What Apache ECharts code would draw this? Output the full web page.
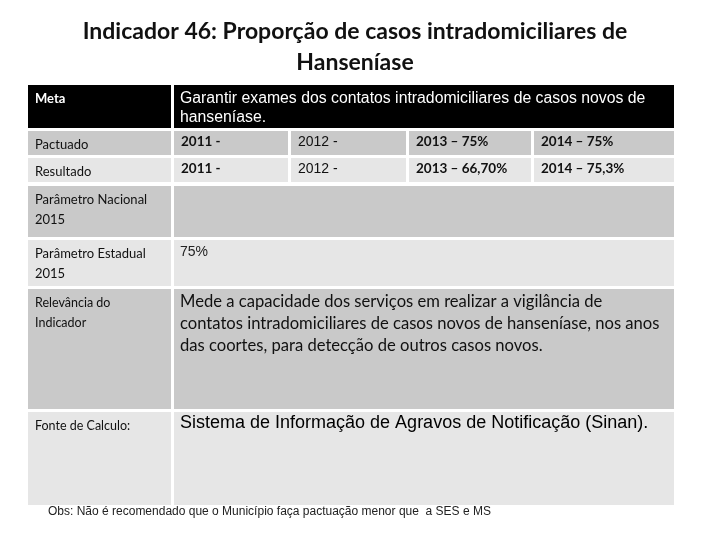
<!DOCTYPE html>
<html>
<head>
<meta charset="utf-8">
<script src="https://cdn.jsdelivr.net/npm/echarts@6/dist/echarts.min.js"></script>
<style>
  html, body { margin: 0; padding: 0; background: #fff; }
  #chart { width: 720px; height: 540px; }
</style>
</head>
<body>
<div id="chart"></div>
<script>
// texto da tabela
var titleLines = ['Indicador 46: Proporção de casos intradomiciliares de', 'Hanseníase']
var rowLabels = ['Meta', 'Pactuado', 'Resultado', 'Parâmetro Nacional\n2015', 'Parâmetro Estadual\n2015', 'Relevância do\nIndicador', 'Fonte de Calculo:']
var metaText = 'Garantir exames dos contatos intradomiciliares de casos novos de\nhanseníase.'
var pactuado = ['2011 -', '2012 -', '2013 – 75%', '2014 – 75%']
var resultado = ['2011 -', '2012 -', '2013 – 66,70%', '2014 – 75,3%']
var nacional = ''
var estadual = '75%'
var relevancia = 'Mede a capacidade dos serviços em realizar a vigilância de\ncontatos intradomiciliares de casos novos de hanseníase, nos anos\ndas coortes, para detecção de outros casos novos.'
var fonte = 'Sistema de Informação de Agravos de Notificação (Sinan).'
var obs = 'Obs: Não é recomendado que o Município faça pactuação menor que  a SES e MS'

// layout
var rowY = [[85, 128], [131, 155], [158, 182], [186, 237], [240, 286], [289, 409], [412, 505]]
var col1 = [28, 171]
var col2 = [174, 674]
var subCols = [[174, 288], [291, 406], [409, 531], [534, 674]]
var rowFill = ['#000000', '#c9c9c9', '#e6e6e6', '#c9c9c9', '#e6e6e6', '#c9c9c9', '#e6e6e6']

var calibri = 'Lato, "Open Sans", sans-serif'
var arial = '"Liberation Sans", Arial, sans-serif'

function rect(x0, x1, y0, y1, fill) {
  return { type: 'rect', shape: { x: x0, y: y0, width: x1 - x0, height: y1 - y0 }, style: { fill: fill }, silent: true }
}
function text(x, y, str, opt) {
  return {
    type: 'text', x: x, y: y, silent: true,
    style: Object.assign({ text: str, fill: '#000', fontSize: 13, fontFamily: calibri, verticalAlign: 'top', align: 'left' }, opt || {})
  }
}

var els = []
titleLines.forEach(function (t, i) {
  els.push(text(355, 20 + i * 31, t, { fontSize: 23, fontWeight: 'bold', align: 'center', fontFamily: calibri, fill: '#111' }))
})

rowY.forEach(function (r, i) {
  els.push(rect(col1[0], col1[1], r[0], r[1], rowFill[i]))
  if (i === 1 || i === 2) {
    subCols.forEach(function (c) { els.push(rect(c[0], c[1], r[0], r[1], rowFill[i])) })
  } else {
    els.push(rect(col2[0], col2[1], r[0], r[1], rowFill[i]))
  }
  var lab = { fontSize: 13, lineHeight: 20, fill: i === 0 ? '#fff' : '#111' }
  if (i === 0) lab.fontWeight = 'bold'
  if (i >= 5) { lab.fontSize = 12.5 }
  els.push(text(35, r[0] + 4, rowLabels[i], lab))
})

els.push(text(180, rowY[0][0] + 4, metaText, { fontFamily: arial, fontSize: 15.8, lineHeight: 19, fill: '#fff' }))

var rowVals = [pactuado, resultado]
rowVals.forEach(function (vals, k) {
  var r = rowY[k + 1]
  vals.forEach(function (v, j) {
    var o = { fontSize: 13.5, fill: '#111' }
    if (j === 1) { o.fontFamily = arial; o.fontSize = 14 } else { o.fontWeight = 'bold' }
    els.push(text(subCols[j][0] + 7, r[0] + 4, v, o))
  })
})

els.push(text(180, rowY[3][0] + 5, nacional, { fontFamily: arial, fontSize: 14 }))
els.push(text(180, rowY[4][0] + 5, estadual, { fontFamily: arial, fontSize: 14, fill: '#222' }))
els.push(text(180, rowY[5][0] + 2, relevancia, { fontSize: 16.6, lineHeight: 22, fill: '#111' }))
els.push(text(180, rowY[6][0] + 2, fonte, { fontFamily: arial, fontSize: 18, fill: '#000' }))
els.push(text(48, 506, obs, { fontFamily: '"Liberation Sans Narrow", ' + arial, fontSize: 12, fill: '#222' }))

var chart = echarts.init(document.getElementById('chart'))
chart.setOption({
  backgroundColor: '#fff',
  animation: false,
  graphic: { elements: els }
})
</script>
</body>
</html>
